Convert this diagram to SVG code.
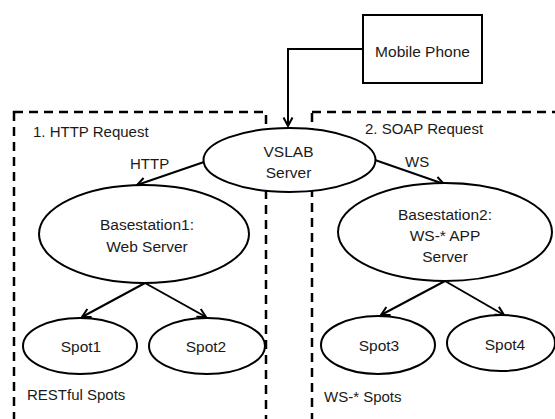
<svg xmlns="http://www.w3.org/2000/svg" width="555" height="419" viewBox="0 0 555 419">
<style>
.box{fill:none;stroke:#000;stroke-width:2.5;stroke-dasharray:9 6}
.node{fill:#fff;stroke:#000;stroke-width:2}
.edge{fill:none;stroke:#000;stroke-width:2;marker-end:url(#arr)}
text{font-family:"Liberation Sans",Arial,sans-serif;fill:#1a1a1a}
.n{font-size:15.5px;text-anchor:middle}
.c{font-size:15px}
</style>
<defs>
<marker id="arr" markerUnits="userSpaceOnUse" viewBox="0 0 12 12" markerWidth="12" markerHeight="12" refX="10.5" refY="6" orient="auto">
<path d="M2,1.5 L10.5,6 L2,10.5" fill="none" stroke="#000" stroke-width="2"/>
</marker>
</defs>
<g id="group-restful">
<rect class="box" x="14" y="112" width="252" height="330"/>
<text class="c" x="33" y="137">1. HTTP Request</text>
<text class="c" x="27" y="400">RESTful Spots</text>
</g>
<g id="group-ws">
<rect class="box" x="312" y="112" width="260" height="330"/>
<text class="c" x="365" y="134">2. SOAP Request</text>
<text class="c" x="324" y="402">WS-* Spots</text>
</g>
<g id="connectors">
<path class="edge" d="M363,49 H288 V126"/>
<path class="edge" d="M204,162 L137,185"/>
<path class="edge" d="M375,160 L444,184"/>
<path class="edge" d="M145,283 L82,317"/>
<path class="edge" d="M145,283 L206,317"/>
<path class="edge" d="M445,281 L381,315"/>
<path class="edge" d="M445,281 L504,315"/>
<text class="c" x="130" y="169">HTTP</text>
<text class="c" x="405" y="167">WS</text>
</g>
<g id="mobile">
<rect class="node" x="363" y="15" width="119" height="68"/>
<text class="n" x="422.5" y="57">Mobile Phone</text>
</g>
<g id="vslab">
<ellipse class="node" cx="289.5" cy="160" rx="86" ry="32"/>
<text class="n" x="288.5" y="157">VSLAB</text>
<text class="n" x="288.5" y="178">Server</text>
</g>
<g id="basestation1">
<ellipse class="node" cx="144" cy="234" rx="105" ry="49"/>
<text class="n" x="147" y="230">Basestation1:</text>
<text class="n" x="147" y="252">Web Server</text>
</g>
<g id="basestation2">
<ellipse class="node" cx="445" cy="232" rx="107" ry="49"/>
<text class="n" x="445" y="220">Basestation2:</text>
<text class="n" x="445" y="241">WS-* APP</text>
<text class="n" x="445" y="262">Server</text>
</g>
<g id="spot1">
<ellipse class="node" cx="80" cy="346" rx="57" ry="28"/>
<text class="n" x="81" y="352">Spot1</text>
</g>
<g id="spot2">
<ellipse class="node" cx="207" cy="346" rx="58" ry="28"/>
<text class="n" x="206" y="352">Spot2</text>
</g>
<g id="spot3">
<ellipse class="node" cx="378" cy="345" rx="57" ry="29"/>
<text class="n" x="379" y="351">Spot3</text>
</g>
<g id="spot4">
<ellipse class="node" cx="501" cy="343" rx="54" ry="28"/>
<text class="n" x="505" y="350">Spot4</text>
</g>
</svg>
